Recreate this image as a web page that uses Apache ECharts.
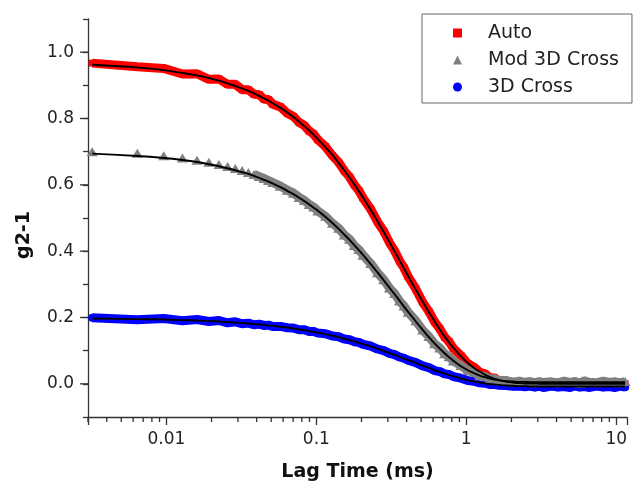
<!DOCTYPE html>
<html>
<head>
<meta charset="utf-8">
<script src="https://cdn.jsdelivr.net/npm/echarts@6/dist/echarts.min.js"></script>
<style>
html,body{margin:0;padding:0;background:#fff;}
#chart{width:635px;height:489px;}
</style>
</head>
<body>
<div id="chart"></div>
<script>
// Lag times (ms)
const lagTime = [
  0.0032,0.0064,0.0096,0.0128,0.016,0.0192,0.0224,0.0256,
  0.0288,0.032,0.0352,0.0384,0.0416,0.0448,0.048,0.0512,
  0.0576,0.064,0.0704,0.0768,0.0832,0.0896,0.096,0.1024,
  0.1152,0.128,0.1408,0.1536,0.1664,0.1792,0.192,0.2048,
  0.2304,0.256,0.2816,0.3072,0.3328,0.3584,0.384,0.4096,
  0.4608,0.512,0.5632,0.6144,0.6656,0.7168,0.768,0.8192,
  0.9216,1.024,1.126,1.229,1.331,1.434,1.536,1.638,
  1.843,2.048,2.253,2.458,2.662,2.867,3.072,3.277,
  3.686,4.096,4.506,4.915,5.325,5.734,6.144,6.554,
  7.373,8.192,9.011,9.830,10.65,11.47
];
// Auto (red squares)
const autoData = [
  0.967,0.956,0.951,0.934,0.935,0.918,0.919,0.903,
  0.903,0.887,0.887,0.873,0.872,0.858,0.857,0.843,
  0.835,0.816,0.806,0.788,0.779,0.762,0.753,0.736,
  0.715,0.688,0.668,0.642,0.624,0.600,0.583,0.560,
  0.527,0.488,0.460,0.426,0.401,0.371,0.350,0.323,
  0.286,0.246,0.218,0.187,0.166,0.141,0.127,0.107,
  0.085,0.061,0.050,0.035,0.030,0.019,0.018,0.010,
  0.009,0.002,0.004,-0.001,0.002,-0.001,0.001,-0.001,
  0.001,-0.002,0.002,-0.001,0.000,0.002,-0.002,0.001,
  -0.001,0.002,-0.002,0.001,-0.001,0.000
];
const autoFit = [
  0.962,0.954,0.946,0.937,0.930,0.922,0.914,0.906,
  0.898,0.891,0.883,0.876,0.868,0.861,0.854,0.846,
  0.832,0.818,0.804,0.790,0.777,0.764,0.751,0.738,
  0.713,0.690,0.666,0.644,0.622,0.602,0.581,0.562,
  0.525,0.490,0.458,0.428,0.399,0.373,0.348,0.325,
  0.284,0.248,0.216,0.189,0.164,0.143,0.125,0.109,
  0.083,0.063,0.048,0.037,0.028,0.021,0.016,0.012,
  0.007,0.004,0.002,0.001,0.001,0.001,0.000,0.000,
  0.000,0.000,0.000,0.000,0.000,0.000,0.000,0.000,
  0.000,0.000,0.000,0.000,0.000,0.000
];
// Mod 3D Cross (grey triangles)
const modData = [
  0.700,0.695,0.688,0.681,0.674,0.668,0.661,0.655,
  0.649,0.643,0.637,0.631,0.625,0.619,0.613,0.607,
  0.596,0.584,0.575,0.562,0.553,0.541,0.533,0.521,
  0.505,0.484,0.469,0.449,0.436,0.417,0.405,0.388,
  0.363,0.335,0.314,0.289,0.272,0.250,0.235,0.216,
  0.190,0.162,0.143,0.121,0.108,0.091,0.082,0.069,
  0.055,0.040,0.034,0.024,0.022,0.015,0.015,0.010,
  0.010,0.005,0.008,0.004,0.007,0.003,0.007,0.004,
  0.006,0.003,0.008,0.004,0.007,0.002,0.009,0.005,
  0.003,0.008,0.004,0.006,0.003,0.007
];
const modFit = [
  0.694,0.687,0.681,0.675,0.669,0.662,0.656,0.650,
  0.644,0.638,0.633,0.627,0.621,0.615,0.610,0.604,
  0.593,0.582,0.572,0.561,0.551,0.541,0.531,0.522,
  0.503,0.485,0.467,0.450,0.434,0.418,0.403,0.389,
  0.361,0.336,0.312,0.290,0.270,0.251,0.233,0.217,
  0.188,0.163,0.141,0.122,0.106,0.092,0.080,0.070,
  0.053,0.041,0.032,0.025,0.020,0.016,0.013,0.011,
  0.008,0.007,0.006,0.006,0.005,0.005,0.005,0.005,
  0.005,0.005,0.005,0.005,0.005,0.005,0.005,0.005,
  0.005,0.005,0.005,0.005,0.005,0.005
];
// 3D Cross (blue circles)
const crossData = [
  0.199,0.193,0.197,0.190,0.194,0.188,0.191,0.184,
  0.187,0.181,0.183,0.178,0.180,0.176,0.177,0.173,
  0.173,0.169,0.168,0.163,0.163,0.158,0.158,0.153,
  0.151,0.144,0.142,0.135,0.133,0.127,0.125,0.119,
  0.114,0.105,0.100,0.092,0.088,0.081,0.077,0.071,
  0.064,0.054,0.049,0.040,0.037,0.030,0.028,0.022,
  0.017,0.010,0.008,0.003,0.002,-0.002,-0.002,-0.004,
  -0.005,-0.007,-0.007,-0.009,-0.007,-0.010,-0.007,-0.011,
  -0.007,-0.010,-0.008,-0.011,-0.006,-0.010,-0.008,-0.011,
  -0.007,-0.010,-0.008,-0.011,-0.007,-0.010
];
const crossFit = [
  0.197,0.195,0.194,0.192,0.191,0.189,0.188,0.186,
  0.185,0.183,0.182,0.180,0.179,0.178,0.176,0.175,
  0.172,0.170,0.167,0.164,0.162,0.159,0.157,0.154,
  0.150,0.145,0.141,0.136,0.132,0.128,0.124,0.120,
  0.113,0.106,0.099,0.093,0.087,0.082,0.076,0.072,
  0.063,0.055,0.048,0.041,0.036,0.031,0.027,0.023,
  0.016,0.011,0.007,0.004,0.001,-0.001,-0.002,-0.003,
  -0.005,-0.006,-0.007,-0.007,-0.008,-0.008,-0.008,-0.008,
  -0.008,-0.008,-0.008,-0.008,-0.008,-0.008,-0.008,-0.008,
  -0.008,-0.008,-0.008,-0.008,-0.008,-0.008
];
// Axis ticks / labels
const xMajorLabels = [0.01, 0.1, 1, 10];
const xMinorTicks = [0.003,0.004,0.005,0.006,0.007,0.008,0.009,
  0.02,0.03,0.04,0.05,0.06,0.07,0.08,0.09,
  0.2,0.3,0.4,0.5,0.6,0.7,0.8,0.9,
  2,3,4,5,6,7,8,9];
const yMajorTicks = [0.0, 0.2, 0.4, 0.6, 0.8, 1.0];
const X_MIN = 0.003, X_MAX = 11.8, Y_MIN = -0.1, Y_MAX = 1.1;
const MOD_BAND_START = 11; // from here the grey triangles overlap into a band

const pairs = (ys) => lagTime.map((t, i) => [t, ys[i]]);
const AXIS = '#333';
const FONT = 'DejaVu Sans';

const chart = echarts.init(document.getElementById('chart'), null, {renderer: 'canvas'});
chart.setOption({
  animation: false,
  backgroundColor: '#fff',
  grid: {left: 88, right: 8, top: 19, bottom: 72, containLabel: false, outerBoundsMode: 'none'},
  legend: {
    orient: 'vertical', left: 422, top: 14,
    padding: [9, 13, 6, 31],
    itemGap: 7, itemWidth: 9, itemHeight: 9,
    borderColor: '#666', borderWidth: 1,
    textStyle: {fontFamily: FONT, fontSize: 19, color: '#222', lineHeight: 20, padding: [0, 0, 0, 21]},
    data: [
      {name: 'Auto', icon: 'rect', itemStyle: {color: '#ff0000'}},
      {name: 'Mod 3D Cross', icon: 'triangle', itemStyle: {color: '#808080'}},
      {name: '3D Cross', icon: 'circle', itemStyle: {color: '#0000ff'}}
    ]
  },
  xAxis: {
    type: 'log', logBase: 10, min: X_MIN, max: X_MAX,
    name: 'Lag Time (ms)', nameLocation: 'middle', nameGap: 46,
    nameTextStyle: {fontFamily: FONT, fontSize: 19, fontWeight: 'bold', color: '#111'},
    axisLine: {show: true, onZero: false, lineStyle: {color: AXIS, width: 1.3}},
    axisTick: {show: true, length: 8, inside: false, lineStyle: {color: AXIS, width: 1.3}},
    minorTick: {show: false},
    splitLine: {show: false},
    axisLabel: {
      fontFamily: FONT, fontSize: 17, color: '#222', margin: 14,
      showMinLabel: true, showMaxLabel: true,
      formatter: (v) => {
        const s = parseFloat(Number(v).toPrecision(6));
        return xMajorLabels.includes(s) ? String(s) : '';
      }
    }
  },
  yAxis: {
    type: 'value', min: Y_MIN, max: Y_MAX, interval: 0.1,
    name: 'g2-1', nameLocation: 'middle', nameGap: 54, nameRotate: 90,
    nameTextStyle: {fontFamily: FONT, fontSize: 19, fontWeight: 'bold', color: '#111', padding: [0, 34, 0, 0]},
    axisLine: {show: true, onZero: false, lineStyle: {color: AXIS, width: 1.3}},
    axisTick: {show: true, length: 5, inside: false, lineStyle: {color: AXIS, width: 1.3}},
    splitLine: {show: false},
    axisLabel: {
      fontFamily: FONT, fontSize: 17, color: '#222', margin: 14,
      formatter: (v) => {
        const k = Math.round(v * 10);
        return (k % 2 === 0 && k >= 0 && k <= 10) ? (k / 10).toFixed(1) : '';
      }
    }
  },
  series: [
    {
      name: 'Auto', type: 'line', data: pairs(autoData),
      symbol: 'rect', symbolSize: 7, showSymbol: true,
      itemStyle: {color: '#ff0000'},
      lineStyle: {color: '#ff0000', width: 9}, z: 2
    },
    {
      name: '3D Cross', type: 'line', data: pairs(crossData),
      symbol: 'circle', symbolSize: 8, showSymbol: true,
      itemStyle: {color: '#0000ff'},
      lineStyle: {color: '#0000ff', width: 9}, z: 2
    },
    {
      name: 'Mod 3D Cross', type: 'line',
      data: pairs(modData).map((p, i) => i >= MOD_BAND_START ? p : [p[0], '-']),
      showSymbol: false, connectNulls: false,
      itemStyle: {color: '#808080'},
      lineStyle: {color: '#808080', width: 9}, z: 3
    },
    {
      name: 'Mod 3D Cross', type: 'scatter', data: pairs(modData),
      symbol: 'triangle', symbolSize: [11, 9],
      itemStyle: {color: '#808080', opacity: 1}, z: 3
    },
    {name: 'Auto fit', type: 'line', data: pairs(autoFit), showSymbol: false, smooth: 0.3,
      lineStyle: {color: '#000', width: 1.9}, z: 5, silent: true},
    {name: 'Mod fit', type: 'line', data: pairs(modFit), showSymbol: false, smooth: 0.3,
      lineStyle: {color: '#000', width: 1.9}, z: 5, silent: true},
    {name: 'Cross fit', type: 'line', data: pairs(crossFit), showSymbol: false, smooth: 0.3,
      lineStyle: {color: '#000', width: 1.9}, z: 5, silent: true},
    {
      name: 'x minor ticks', type: 'custom', silent: true, clip: false, z: 6,
      data: xMinorTicks.map(t => [t, Y_MIN]),
      renderItem: (params, api) => {
        const p = api.coord([api.value(0), api.value(1)]);
        return {type: 'line', shape: {x1: p[0], y1: p[1], x2: p[0], y2: p[1] + 5},
          style: {stroke: AXIS, lineWidth: 1.3}};
      }
    },
    {
      name: 'y major ticks', type: 'custom', silent: true, clip: false, z: 6,
      data: yMajorTicks.map(v => [X_MIN, v]),
      renderItem: (params, api) => {
        const p = api.coord([api.value(0), api.value(1)]);
        return {type: 'line', shape: {x1: p[0] - 8, y1: p[1], x2: p[0], y2: p[1]},
          style: {stroke: AXIS, lineWidth: 1.3}};
      }
    }
  ]
});
</script>
</body>
</html>
